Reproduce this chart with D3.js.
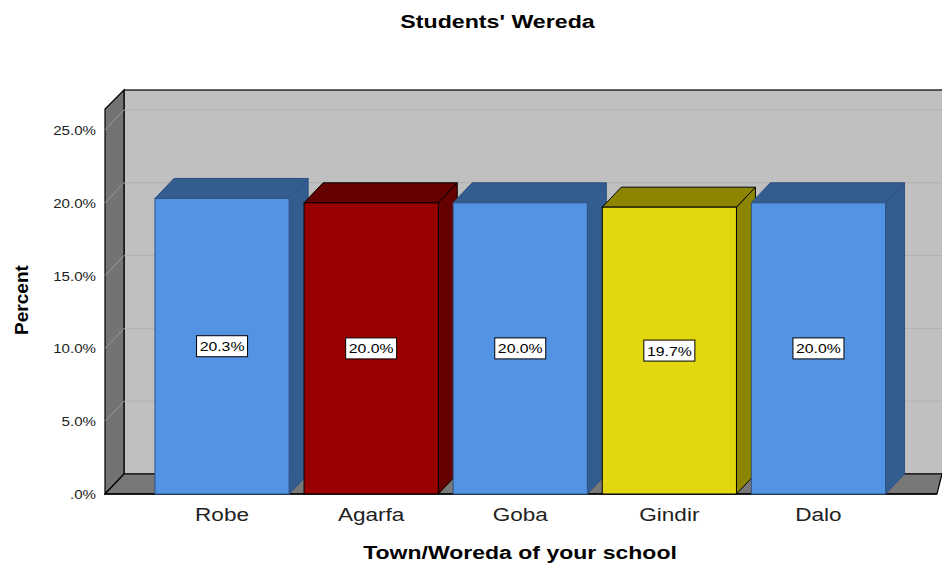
<!DOCTYPE html>
<html><head><meta charset="utf-8">
<script src="https://cdn.jsdelivr.net/npm/d3@7"></script>
<style>body{margin:0;background:#fff}svg{display:block}text{font-family:"Liberation Sans",Arial,sans-serif}</style>
</head><body>
<svg id="c" width="942" height="565"></svg>
<script>
const categories = ["Robe","Agarfa","Goba","Gindir","Dalo"];
const percents = [20.3, 20.0, 20.0, 19.7, 20.0];
const valueLabels = ["20.3%","20.0%","20.0%","19.7%","20.0%"];
const tickValues = [0,5,10,15,20,25];
const tickLabels = [".0%","5.0%","10.0%","15.0%","20.0%","25.0%"];
const frontColors = ["#5393e3","#990000","#5393e3","#e3d70f","#5393e3"];
const topColors = ["#335c8f","#640000","#335c8f","#8c8500","#335c8f"];
const strokeColors = ["#2e5283","#000","#2e5283","#000","#2e5283"];

const svg = d3.select("#c");
const dx = 19, dy = -20;
const y = d3.scaleLinear().domain([0,25]).range([494,130]);
const x = d3.scaleBand().domain(categories).range([147.5,893]).paddingInner(0.1).paddingOuter(0.05);
const wallLeft = 105, wallTopFront = 109, backTop = 90;
const floorRight = 937;

function stext(parent, tx, ty, str, size, sx, anchor, weight, fill, rot) {
  return parent.append("text")
    .attr("transform", `translate(${tx},${ty})` + (rot ? ` rotate(${rot})` : "") + ` scale(${sx},1)`)
    .attr("text-anchor", anchor).attr("font-size", size)
    .attr("font-weight", weight || "normal").attr("fill", fill || "#000").text(str);
}

// back wall
svg.append("rect").attr("x",wallLeft+dx).attr("y",backTop).attr("width",942-(wallLeft+dx)+2).attr("height",y(0)+dy-backTop)
  .attr("fill","#c0c0c0").attr("stroke","#000").attr("stroke-width",1.2);
// left wall
svg.append("polygon").attr("points",[[wallLeft,y(0)],[wallLeft+dx,y(0)+dy],[wallLeft+dx,backTop],[wallLeft,wallTopFront]].map(p=>p.join(",")).join(" "))
  .attr("fill","#737373").attr("stroke","#000").attr("stroke-width",1.2);
// gridlines
tickValues.filter(v=>v>0).forEach(v=>{
  svg.append("line").attr("x1",wallLeft+dx).attr("x2",942).attr("y1",y(v)+dy).attr("y2",y(v)+dy).attr("stroke","#b0b0b0").attr("stroke-width",1);
  svg.append("line").attr("x1",wallLeft).attr("x2",wallLeft+dx).attr("y1",y(v)).attr("y2",y(v)+dy).attr("stroke","#9a9a9a").attr("stroke-width",1);
});
// floor
svg.append("polygon").attr("points",[[wallLeft,y(0)],[wallLeft+dx,y(0)+dy],[942,y(0)+dy],[floorRight,y(0)]].map(p=>p.join(",")).join(" "))
  .attr("fill","#787878").attr("stroke","#000").attr("stroke-width",1.2);
svg.append("line").attr("x1",wallLeft).attr("x2",floorRight).attr("y1",y(0)).attr("y2",y(0)).attr("stroke","#000").attr("stroke-width",1.5);

// bars
const bw = x.bandwidth();
categories.forEach((c,i)=>{
  const v = percents[i], x0 = x(c), x1 = x0+bw, yt = y(v), yb = y(0);
  const g = svg.append("g");
  g.append("polygon").attr("points",[[x1,yb],[x1+dx,yb+dy],[x1+dx,yt+dy],[x1,yt]].map(p=>p.join(",")).join(" "))
    .attr("fill",topColors[i]).attr("stroke",strokeColors[i]).attr("stroke-width",1);
  g.append("polygon").attr("points",[[x0,yt],[x0+dx,yt+dy],[x1+dx,yt+dy],[x1,yt]].map(p=>p.join(",")).join(" "))
    .attr("fill",topColors[i]).attr("stroke",strokeColors[i]).attr("stroke-width",1);
  g.append("rect").attr("x",x0).attr("y",yt).attr("width",bw).attr("height",yb-yt)
    .attr("fill",frontColors[i]).attr("stroke",strokeColors[i]).attr("stroke-width",1);
  const cy = y(v/2), cx = x0+bw/2;
  g.append("rect").attr("x",cx-25.5).attr("y",cy-10.5).attr("width",51).attr("height",21)
    .attr("fill","#fff").attr("stroke","#000").attr("stroke-width",1);
  stext(g, cx, cy+5, valueLabels[i], 13.5, 1.17, "middle", "normal", "#000");
  stext(svg, cx, 521, c, 18.5, 1.22, "middle", "normal", "#222");
});

// y tick labels
tickValues.forEach((v,i)=>{
  stext(svg, 96, y(v)+5, tickLabels[i], 13.5, 1.12, "end", "normal", "#222");
});

// titles
stext(svg, 497.5, 28, "Students' Wereda", 19, 1.22, "middle", "bold", "#000");
stext(svg, 520, 558.5, "Town/Woreda of your school", 18.5, 1.245, "middle", "bold", "#000");
stext(svg, 28, 300, "Percent", 17.5, 1.09, "middle", "bold", "#000", -90);
</script>
</body></html>
